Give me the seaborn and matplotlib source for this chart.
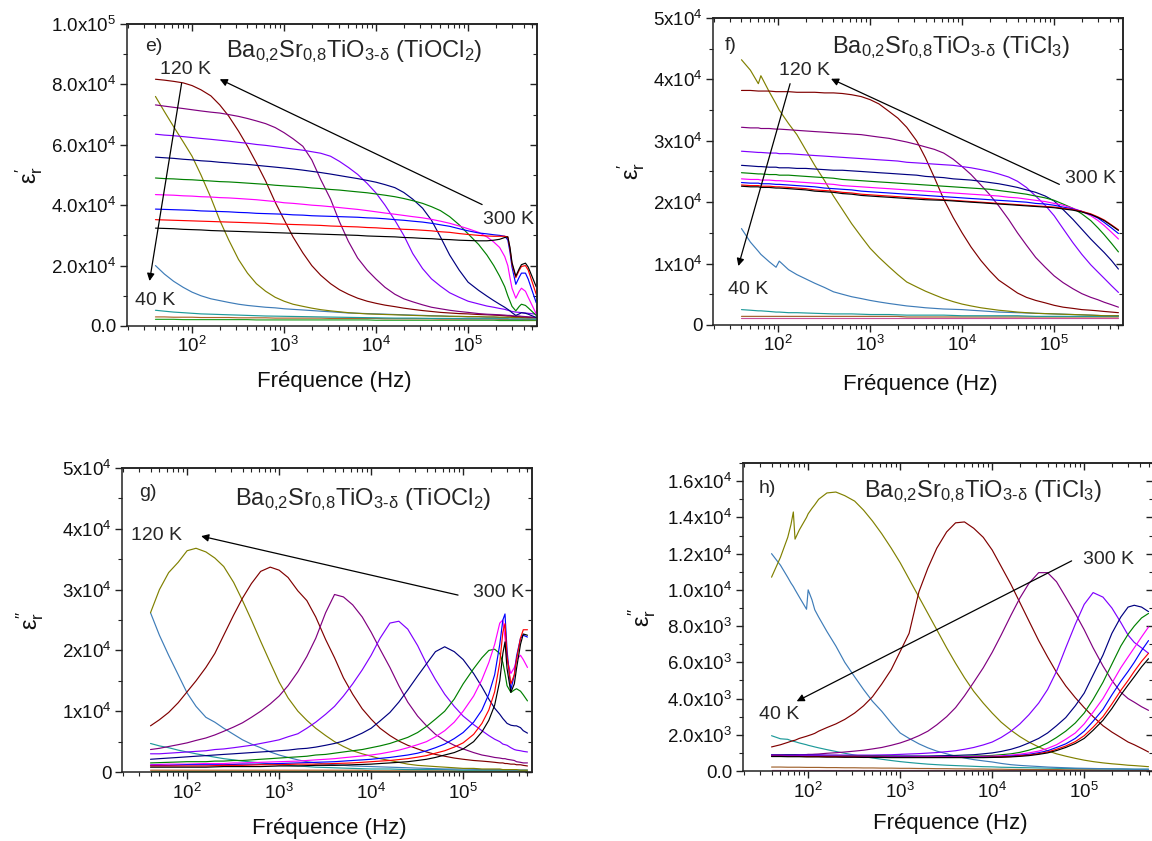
import numpy as np
import pandas as pd
import matplotlib
matplotlib.use("Agg")
import matplotlib.pyplot as plt
import seaborn as sns
from matplotlib.ticker import FixedLocator, FixedFormatter, MultipleLocator, LogLocator, NullFormatter

# ---------------- data ----------------
temps = [300, 280, 260, 240, 220, 200, 180, 160, 140, 120, 100, 80, 60, 40]

freq_e = [40, 50, 63, 80, 100, 125, 160, 200, 250, 320, 400, 500, 630, 800, 1.0e3, 1.25e3, 1.6e3,
          2.0e3, 2.5e3, 3.2e3, 4.0e3, 5.0e3, 6.3e3, 8.0e3, 1.0e4, 1.25e4, 1.6e4, 2.0e4, 2.5e4, 3.2e4,
          4.0e4, 5.0e4, 6.3e4, 8.0e4, 1.0e5, 1.3e5, 1.6e5, 1.9e5, 2.2e5, 2.5e5, 2.7e5, 2.85e5, 3.0e5,
          3.3e5, 3.6e5, 3.8e5, 4.2e5, 4.5e5, 5.5e5]
# panel e : eps' (units of 1e4), TiOCl2
eps_e = [
    [3.24, 3.23, 3.22, 3.20, 3.19, 3.18, 3.16, 3.15, 3.14, 3.13, 3.12, 3.11, 3.10, 3.09, 3.08, 3.07, 3.06, 3.05, 3.04, 3.03, 3.02, 3.01, 3.00, 2.98, 2.97, 2.96, 2.95, 2.93, 2.92, 2.90, 2.89, 2.87, 2.86, 2.84, 2.83,
     2.82, 2.82, 2.84, 2.87, 2.93, 2.95, 2.60, 2.10, 1.65, 1.90, 2.03, 2.08, 1.95, 1.30],
    [3.52, 3.51, 3.50, 3.49, 3.48, 3.47, 3.46, 3.45, 3.44, 3.43, 3.42, 3.41, 3.40, 3.38, 3.37, 3.36, 3.35, 3.34, 3.33, 3.31, 3.30, 3.29, 3.28, 3.26, 3.25, 3.23, 3.22, 3.20, 3.19, 3.17, 3.15, 3.12, 3.10, 3.06, 3.03,
     3.00, 2.98, 2.97, 2.97, 2.97, 2.95, 2.55, 2.05, 1.60, 1.85, 1.97, 2.00, 1.85, 1.05],
    [3.87, 3.86, 3.85, 3.84, 3.83, 3.81, 3.80, 3.79, 3.78, 3.76, 3.75, 3.73, 3.72, 3.71, 3.70, 3.68, 3.67, 3.65, 3.64, 3.63, 3.62, 3.61, 3.60, 3.58, 3.57, 3.55, 3.52, 3.50, 3.47, 3.44, 3.40, 3.35, 3.30, 3.22, 3.15,
     3.08, 3.05, 3.02, 3.00, 2.97, 2.85, 2.45, 1.95, 1.38, 1.62, 1.75, 1.75, 1.55, 0.77],
    [4.35, 4.34, 4.33, 4.31, 4.30, 4.28, 4.27, 4.25, 4.24, 4.22, 4.20, 4.18, 4.15, 4.12, 4.08, 4.06, 4.03, 4.00, 3.98, 3.95, 3.92, 3.89, 3.86, 3.82, 3.78, 3.74, 3.70, 3.66, 3.62, 3.58, 3.53, 3.47, 3.40, 3.31, 3.22,
     3.10, 2.95, 2.78, 2.60, 2.30, 2.00, 1.60, 1.25, 0.92, 1.15, 1.25, 1.15, 0.95, 0.40],
    [4.90, 4.88, 4.87, 4.85, 4.84, 4.82, 4.80, 4.78, 4.77, 4.75, 4.73, 4.71, 4.69, 4.66, 4.64, 4.62, 4.60, 4.57, 4.55, 4.52, 4.50, 4.47, 4.44, 4.41, 4.37, 4.33, 4.28, 4.22, 4.15, 4.06, 3.95, 3.82, 3.62, 3.35, 3.05,
     2.70, 2.35, 2.00, 1.65, 1.30, 1.00, 0.82, 0.65, 0.50, 0.65, 0.72, 0.68, 0.60, 0.35],
    [5.59, 5.57, 5.55, 5.52, 5.50, 5.47, 5.45, 5.42, 5.40, 5.37, 5.35, 5.32, 5.29, 5.26, 5.23, 5.20, 5.16, 5.12, 5.08, 5.03, 4.98, 4.93, 4.88, 4.82, 4.76, 4.68, 4.58, 4.42, 4.20, 3.90, 3.50, 2.95, 2.35, 1.85, 1.45,
     1.18, 0.99, 0.84, 0.72, 0.62, 0.55, 0.50, 0.44, 0.35, 0.40, 0.44, 0.42, 0.39, 0.28],
    [6.35, 6.32, 6.30, 6.27, 6.24, 6.21, 6.18, 6.15, 6.12, 6.08, 6.05, 6.01, 5.98, 5.94, 5.90, 5.86, 5.82, 5.77, 5.72, 5.62, 5.45, 5.25, 5.02, 4.72, 4.40, 4.00, 3.50, 3.00, 2.40, 1.90, 1.56, 1.32, 1.10, 0.95, 0.82,
     0.73, 0.66, 0.62, 0.58, 0.55, 0.52, 0.50, 0.48, 0.46, 0.45, 0.44, 0.43, 0.42, 0.39],
    [7.32, 7.28, 7.24, 7.20, 7.16, 7.12, 7.08, 7.05, 7.00, 6.94, 6.87, 6.79, 6.70, 6.57, 6.40, 6.20, 5.95, 5.50, 4.85, 4.20, 3.45, 2.80, 2.25, 1.85, 1.55, 1.28, 1.05, 0.90, 0.80, 0.70, 0.62, 0.57, 0.52, 0.48, 0.45,
     0.41, 0.39, 0.38, 0.37, 0.36, 0.35, 0.35, 0.34, 0.33, 0.33, 0.32, 0.31, 0.30, 0.28],
    [8.17, 8.14, 8.10, 8.05, 7.96, 7.82, 7.62, 7.32, 6.95, 6.45, 5.95, 5.40, 4.80, 4.10, 3.52, 2.95, 2.42, 2.00, 1.68, 1.40, 1.20, 1.05, 0.92, 0.82, 0.75, 0.69, 0.64, 0.59, 0.55, 0.51, 0.48, 0.45, 0.43, 0.41, 0.40,
     0.38, 0.37, 0.36, 0.35, 0.34, 0.33, 0.33, 0.32, 0.31, 0.31, 0.30, 0.30, 0.29, 0.28],
    [7.60, 7.10, 6.60, 6.10, 5.62, 5.00, 4.25, 3.50, 2.85, 2.20, 1.75, 1.40, 1.15, 0.95, 0.82, 0.72, 0.65, 0.59, 0.54, 0.50, 0.47, 0.44, 0.42, 0.40, 0.39, 0.38, 0.37, 0.36, 0.35, 0.34, 0.33, 0.33, 0.32, 0.32, 0.31,
     0.31, 0.30, 0.30, 0.29, 0.29, 0.29, 0.29, 0.28, 0.28, 0.28, 0.28, 0.27, 0.27, 0.27],
    [2.00, 1.72, 1.48, 1.28, 1.12, 1.00, 0.90, 0.84, 0.78, 0.72, 0.68, 0.65, 0.62, 0.60, 0.57, 0.55, 0.53, 0.51, 0.49, 0.47, 0.45, 0.43, 0.42, 0.41, 0.40, 0.39, 0.38, 0.37, 0.36, 0.35, 0.34, 0.33, 0.32, 0.31, 0.30,
     0.30, 0.29, 0.29, 0.28, 0.28, 0.28, 0.28, 0.27, 0.27, 0.27, 0.27, 0.27, 0.26, 0.26],
    [0.52, 0.49, 0.46, 0.44, 0.42, 0.40, 0.39, 0.38, 0.37, 0.36, 0.35, 0.34, 0.33, 0.325, 0.32, 0.315, 0.31, 0.305, 0.30, 0.295, 0.29, 0.285, 0.28, 0.275, 0.27, 0.265, 0.26, 0.26, 0.26, 0.255, 0.25, 0.25, 0.25, 0.245, 0.24,
     0.24, 0.24, 0.24, 0.24, 0.24, 0.24, 0.23, 0.23, 0.23, 0.23, 0.23, 0.23, 0.23, 0.22],
    [0.30, 0.30, 0.29, 0.29, 0.29, 0.28, 0.28, 0.28, 0.28, 0.27, 0.27, 0.27, 0.27, 0.26, 0.26, 0.26, 0.26, 0.26, 0.26, 0.25, 0.25, 0.25, 0.25, 0.25, 0.25, 0.24, 0.24, 0.24, 0.24, 0.24, 0.24, 0.23, 0.23, 0.23, 0.23,
     0.23, 0.23, 0.23, 0.22, 0.22, 0.22, 0.22, 0.22, 0.22, 0.22, 0.22, 0.21, 0.21, 0.21],
    [0.22, 0.22, 0.22, 0.21, 0.21, 0.21, 0.21, 0.21, 0.21, 0.21, 0.21, 0.20, 0.20, 0.20, 0.20, 0.20, 0.20, 0.20, 0.20, 0.20, 0.20, 0.20, 0.20, 0.20, 0.19, 0.19, 0.19, 0.19, 0.19, 0.19, 0.19, 0.19, 0.19, 0.19, 0.19,
     0.19, 0.19, 0.19, 0.18, 0.18, 0.18, 0.18, 0.18, 0.18, 0.18, 0.18, 0.18, 0.18, 0.18],
]

freq_f = [40, 50, 61, 65, 80, 95, 103, 130, 160, 200, 250, 320, 400, 500, 630, 800, 1.0e3, 1.25e3,
          1.6e3, 2.0e3, 2.5e3, 3.2e3, 4.0e3, 5.0e3, 6.3e3, 8.0e3, 1.0e4, 1.25e4, 1.6e4, 2.0e4, 2.5e4,
          3.2e4, 4.0e4, 5.0e4, 6.3e4, 8.0e4, 1.0e5, 1.25e5, 1.6e5, 2.0e5, 2.5e5, 3.0e5, 3.5e5, 4.2e5, 5.0e5]
# panel f : eps' (units of 1e4), TiCl3
eps_f = [
    [2.26, 2.25, 2.25, 2.24, 2.24, 2.23, 2.23, 2.22, 2.21,
     2.20, 2.18, 2.17, 2.16, 2.14, 2.13, 2.11, 2.10, 2.09, 2.08, 2.07, 2.06, 2.05, 2.04, 2.035, 2.03, 2.02,
     2.01, 2.00, 1.99, 1.98, 1.97, 1.96, 1.95, 1.94, 1.93, 1.92, 1.91, 1.89, 1.87, 1.84, 1.80, 1.75, 1.70, 1.62, 1.54],
    [2.28, 2.27, 2.27, 2.26, 2.26, 2.25, 2.25, 2.24, 2.23,
     2.22, 2.20, 2.19, 2.18, 2.16, 2.15, 2.13, 2.12, 2.11, 2.10, 2.09, 2.08, 2.07, 2.06, 2.05, 2.04, 2.03,
     2.02, 2.01, 2.00, 1.99, 1.98, 1.97, 1.96, 1.95, 1.94, 1.93, 1.92, 1.90, 1.88, 1.85, 1.81, 1.76, 1.71, 1.63, 1.55],
    [2.32, 2.31, 2.31, 2.30, 2.30, 2.29, 2.29, 2.28, 2.27,
     2.26, 2.25, 2.23, 2.22, 2.21, 2.20, 2.18, 2.17, 2.16, 2.15, 2.14, 2.13, 2.12, 2.11, 2.10, 2.09, 2.08,
     2.07, 2.06, 2.05, 2.04, 2.03, 2.02, 2.01, 2.00, 1.98, 1.97, 1.95, 1.92, 1.89, 1.85, 1.80, 1.74, 1.67, 1.58, 1.49],
    [2.38, 2.37, 2.37, 2.36, 2.36, 2.35, 2.35, 2.34, 2.33,
     2.32, 2.31, 2.30, 2.29, 2.27, 2.26, 2.25, 2.24, 2.23, 2.22, 2.21, 2.20, 2.19, 2.18, 2.17, 2.16, 2.15,
     2.14, 2.13, 2.12, 2.11, 2.10, 2.08, 2.07, 2.05, 2.03, 2.01, 1.98, 1.95, 1.90, 1.85, 1.78, 1.70, 1.62, 1.51, 1.40],
    [2.48, 2.47, 2.46, 2.46, 2.45, 2.45, 2.44, 2.44, 2.43,
     2.42, 2.41, 2.40, 2.39, 2.37, 2.36, 2.35, 2.34, 2.33, 2.32, 2.31, 2.30, 2.29, 2.28, 2.27, 2.26, 2.25,
     2.24, 2.23, 2.22, 2.21, 2.19, 2.17, 2.15, 2.13, 2.10, 2.07, 2.03, 1.97, 1.90, 1.81, 1.70, 1.58, 1.47, 1.33, 1.19],
    [2.60, 2.59, 2.58, 2.58, 2.57, 2.57, 2.56, 2.56, 2.55,
     2.55, 2.54, 2.53, 2.52, 2.52, 2.51, 2.50, 2.49, 2.48, 2.47, 2.46, 2.45, 2.44, 2.42, 2.41, 2.40, 2.38,
     2.37, 2.36, 2.34, 2.32, 2.30, 2.27, 2.24, 2.20, 2.16, 2.10, 2.02, 1.88, 1.72, 1.56, 1.40, 1.28, 1.18, 1.05, 0.91],
    [2.83, 2.82, 2.81, 2.81, 2.80, 2.80, 2.79, 2.79, 2.78,
     2.77, 2.76, 2.75, 2.74, 2.73, 2.72, 2.71, 2.70, 2.69, 2.68, 2.67, 2.65, 2.64, 2.63, 2.62, 2.61, 2.60,
     2.58, 2.56, 2.53, 2.50, 2.46, 2.41, 2.34, 2.24, 2.10, 1.95, 1.78, 1.57, 1.34, 1.15, 0.98, 0.86, 0.76, 0.64, 0.53],
    [3.22, 3.21, 3.21, 3.20, 3.20, 3.19, 3.19, 3.18, 3.17,
     3.16, 3.15, 3.14, 3.13, 3.12, 3.11, 3.10, 3.08, 3.06, 3.04, 3.01, 2.98, 2.94, 2.90, 2.86, 2.80, 2.70,
     2.58, 2.45, 2.28, 2.12, 1.94, 1.72, 1.50, 1.30, 1.10, 0.94, 0.80, 0.69, 0.59, 0.51, 0.45, 0.41, 0.37, 0.33, 0.29],
    [3.82, 3.82, 3.81, 3.81, 3.81, 3.80, 3.80, 3.80, 3.79,
     3.79, 3.79, 3.78, 3.78, 3.77, 3.75, 3.72, 3.67, 3.60, 3.48, 3.37, 3.22, 3.00, 2.72, 2.40, 2.05, 1.75,
     1.50, 1.27, 1.05, 0.88, 0.73, 0.62, 0.52, 0.45, 0.40, 0.36, 0.32, 0.29, 0.27, 0.25, 0.24, 0.23, 0.22, 0.21, 0.20],
    [4.32, 4.15, 3.93, 4.06, 3.80, 3.60, 3.50, 3.28, 3.10,
     2.85, 2.60, 2.35, 2.10, 1.88, 1.65, 1.44, 1.25, 1.10, 0.95, 0.82, 0.70, 0.62, 0.55, 0.49, 0.43, 0.38,
     0.34, 0.31, 0.28, 0.26, 0.24, 0.225, 0.21, 0.20, 0.19, 0.185, 0.18, 0.175, 0.17, 0.165, 0.16, 0.155, 0.15, 0.15, 0.15],
    [1.57, 1.35, 1.20, 1.15, 1.03, 0.94, 1.04, 0.90, 0.82,
     0.75, 0.68, 0.61, 0.54, 0.50, 0.46, 0.43, 0.40, 0.375, 0.35, 0.33, 0.31, 0.295, 0.28, 0.27, 0.26, 0.255,
     0.25, 0.24, 0.23, 0.22, 0.21, 0.205, 0.20, 0.195, 0.19, 0.185, 0.18, 0.175, 0.17, 0.165, 0.16, 0.155, 0.15, 0.15, 0.15],
    [0.25, 0.24, 0.23, 0.23, 0.22, 0.21, 0.21, 0.20, 0.20,
     0.195, 0.19, 0.185, 0.18, 0.18, 0.18, 0.175, 0.17, 0.17, 0.17, 0.165, 0.16, 0.16, 0.16, 0.16, 0.16, 0.155,
     0.15, 0.15, 0.15, 0.15, 0.15, 0.15, 0.15, 0.145, 0.14, 0.14, 0.14, 0.14, 0.14, 0.14, 0.14, 0.14, 0.14, 0.14, 0.14],
    [0.14, 0.14, 0.14, 0.14, 0.14, 0.14, 0.14, 0.14, 0.14,
     0.14, 0.14, 0.14, 0.14, 0.14, 0.14, 0.14, 0.14, 0.14, 0.14, 0.14, 0.13, 0.13, 0.13, 0.13, 0.13, 0.13,
     0.13, 0.13, 0.13, 0.13, 0.13, 0.13, 0.13, 0.13, 0.13, 0.13, 0.13, 0.13, 0.13, 0.13, 0.13, 0.13, 0.13, 0.13, 0.13],
    [0.11, 0.11, 0.11, 0.11, 0.11, 0.11, 0.11, 0.11, 0.11,
     0.11, 0.11, 0.11, 0.11, 0.11, 0.11, 0.11, 0.11, 0.11, 0.11, 0.11, 0.11, 0.11, 0.11, 0.11, 0.11, 0.11,
     0.11, 0.11, 0.11, 0.11, 0.11, 0.11, 0.11, 0.11, 0.11, 0.11, 0.11, 0.11, 0.11, 0.11, 0.11, 0.11, 0.11, 0.11, 0.11],
]

freq_g = [40, 50, 63, 80, 100, 125, 160, 200, 250, 320, 400, 500, 630, 800, 1.0e3, 1.25e3, 1.6e3,
          2.0e3, 2.5e3, 3.2e3, 4.0e3, 5.0e3, 6.3e3, 8.0e3, 1.0e4, 1.25e4, 1.6e4, 2.0e4, 2.5e4, 3.2e4,
          4.0e4, 5.0e4, 6.3e4, 8.0e4, 1.0e5, 1.3e5, 1.6e5, 1.9e5, 2.2e5, 2.5e5, 2.7e5, 2.85e5, 3.0e5,
          3.3e5, 3.6e5, 3.8e5, 4.2e5, 4.5e5, 5.0e5]
# panel g : eps'' (units of 1e4), TiOCl2
eps_g = [
    [0.08, 0.08, 0.08, 0.08, 0.08, 0.08, 0.08, 0.085, 0.09, 0.09, 0.09, 0.09, 0.09, 0.095, 0.10, 0.10, 0.10, 0.105, 0.11, 0.11, 0.11, 0.115, 0.12, 0.125, 0.13, 0.14, 0.15, 0.16, 0.17, 0.19, 0.21, 0.24, 0.28, 0.32, 0.38,
     0.50, 0.66, 0.85, 1.10, 1.50, 1.95, 2.14, 1.70, 1.31, 1.45, 1.70, 2.10, 2.27, 2.25],
    [0.10, 0.10, 0.10, 0.10, 0.10, 0.10, 0.10, 0.105, 0.11, 0.11, 0.11, 0.115, 0.12, 0.12, 0.12, 0.125, 0.13, 0.13, 0.13, 0.135, 0.14, 0.145, 0.15, 0.16, 0.17, 0.18, 0.19, 0.205, 0.22, 0.245, 0.27, 0.31, 0.35, 0.41, 0.48,
     0.62, 0.80, 1.02, 1.32, 1.80, 2.30, 2.44, 1.90, 1.45, 1.60, 1.85, 2.20, 2.34, 2.34],
    [0.11, 0.11, 0.11, 0.115, 0.12, 0.12, 0.12, 0.12, 0.12, 0.125, 0.13, 0.13, 0.13, 0.135, 0.14, 0.145, 0.15, 0.155, 0.16, 0.165, 0.17, 0.18, 0.19, 0.20, 0.21, 0.225, 0.24, 0.26, 0.28, 0.31, 0.35, 0.40, 0.46, 0.55, 0.65,
     0.82, 1.02, 1.28, 1.60, 2.10, 2.50, 2.60, 2.00, 1.35, 1.60, 1.90, 2.20, 2.25, 2.22],
    [0.12, 0.125, 0.13, 0.13, 0.13, 0.135, 0.14, 0.14, 0.14, 0.15, 0.15, 0.155, 0.16, 0.165, 0.17, 0.175, 0.18, 0.19, 0.20, 0.21, 0.22, 0.235, 0.25, 0.265, 0.28, 0.30, 0.33, 0.36, 0.40, 0.45, 0.50, 0.58, 0.68, 0.82, 1.00,
     1.25, 1.52, 1.80, 2.10, 2.45, 2.50, 2.20, 1.85, 1.62, 1.72, 1.85, 1.92, 1.85, 1.72],
    [0.15, 0.155, 0.16, 0.165, 0.17, 0.17, 0.17, 0.18, 0.18, 0.19, 0.19, 0.20, 0.21, 0.22, 0.23, 0.24, 0.25, 0.26, 0.28, 0.29, 0.31, 0.33, 0.35, 0.37, 0.40, 0.43, 0.47, 0.52, 0.57, 0.65, 0.75, 0.87, 1.00, 1.20, 1.45,
     1.70, 1.88, 2.00, 2.02, 1.95, 1.80, 1.62, 1.42, 1.31, 1.35, 1.37, 1.33, 1.27, 1.17],
    [0.21, 0.22, 0.23, 0.24, 0.25, 0.26, 0.27, 0.28, 0.29, 0.30, 0.31, 0.32, 0.33, 0.34, 0.35, 0.36, 0.38, 0.39, 0.41, 0.44, 0.47, 0.51, 0.57, 0.64, 0.72, 0.84, 0.98, 1.15, 1.35, 1.58, 1.78, 1.98, 2.06, 1.98, 1.85,
     1.62, 1.40, 1.20, 1.05, 0.95, 0.88, 0.84, 0.80, 0.77, 0.76, 0.76, 0.73, 0.68, 0.64],
    [0.30, 0.30, 0.31, 0.32, 0.33, 0.34, 0.35, 0.37, 0.38, 0.40, 0.42, 0.44, 0.47, 0.50, 0.53, 0.58, 0.63, 0.72, 0.82, 0.95, 1.08, 1.25, 1.45, 1.68, 1.92, 2.20, 2.45, 2.48, 2.35, 2.08, 1.78, 1.52, 1.28, 1.08, 0.92,
     0.78, 0.68, 0.60, 0.54, 0.50, 0.46, 0.45, 0.44, 0.40, 0.37, 0.36, 0.35, 0.34, 0.33],
    [0.37, 0.39, 0.42, 0.45, 0.48, 0.52, 0.56, 0.61, 0.67, 0.74, 0.81, 0.90, 1.00, 1.12, 1.25, 1.42, 1.65, 1.90, 2.20, 2.62, 2.92, 2.88, 2.75, 2.55, 2.30, 2.02, 1.72, 1.42, 1.15, 0.92, 0.76, 0.62, 0.52, 0.44, 0.38,
     0.32, 0.28, 0.26, 0.24, 0.23, 0.22, 0.22, 0.21, 0.20, 0.19, 0.17, 0.16, 0.15, 0.15],
    [0.76, 0.86, 0.98, 1.14, 1.32, 1.50, 1.72, 1.95, 2.25, 2.58, 2.86, 3.10, 3.30, 3.37, 3.32, 3.20, 2.98, 2.82, 2.55, 2.18, 1.88, 1.55, 1.28, 1.04, 0.87, 0.72, 0.60, 0.51, 0.44, 0.38, 0.33, 0.29, 0.26, 0.23, 0.21,
     0.19, 0.18, 0.17, 0.16, 0.15, 0.15, 0.14, 0.14, 0.13, 0.13, 0.12, 0.12, 0.11, 0.10],
    [2.62, 3.00, 3.28, 3.45, 3.64, 3.68, 3.62, 3.52, 3.38, 3.12, 2.82, 2.50, 2.15, 1.80, 1.48, 1.22, 1.00, 0.85, 0.72, 0.60, 0.50, 0.42, 0.35, 0.30, 0.26, 0.22, 0.19, 0.16, 0.13, 0.11, 0.10, 0.09, 0.08, 0.07, 0.06,
     0.06, 0.05, 0.05, 0.05, 0.05, 0.04, 0.04, 0.04, 0.04, 0.04, 0.04, 0.03, 0.03, 0.03],
    [2.62, 2.25, 1.92, 1.60, 1.30, 1.08, 0.90, 0.82, 0.72, 0.62, 0.53, 0.46, 0.40, 0.33, 0.28, 0.24, 0.20, 0.17, 0.15, 0.13, 0.12, 0.11, 0.10, 0.095, 0.09, 0.085, 0.08, 0.075, 0.07, 0.065, 0.06, 0.055, 0.05, 0.05, 0.05,
     0.045, 0.04, 0.04, 0.04, 0.04, 0.04, 0.04, 0.04, 0.03, 0.03, 0.03, 0.03, 0.03, 0.03],
    [0.47, 0.43, 0.40, 0.36, 0.33, 0.30, 0.27, 0.245, 0.22, 0.20, 0.18, 0.165, 0.15, 0.135, 0.12, 0.11, 0.10, 0.09, 0.08, 0.075, 0.07, 0.065, 0.06, 0.055, 0.05, 0.05, 0.05, 0.045, 0.04, 0.04, 0.04, 0.04, 0.04, 0.035, 0.03,
     0.03, 0.03, 0.03, 0.03, 0.03, 0.03, 0.03, 0.03, 0.03, 0.03, 0.03, 0.03, 0.03, 0.03],
    [0.03, 0.03, 0.03, 0.03, 0.03, 0.03, 0.03, 0.03, 0.03, 0.03, 0.03, 0.03, 0.03, 0.03, 0.03, 0.03, 0.03, 0.03, 0.03, 0.03, 0.03, 0.03, 0.03, 0.03, 0.02, 0.02, 0.02, 0.02, 0.02, 0.02, 0.02, 0.02, 0.02, 0.02, 0.02,
     0.02, 0.02, 0.02, 0.02, 0.02, 0.02, 0.02, 0.02, 0.02, 0.02, 0.02, 0.02, 0.02, 0.02],
    [0.01, 0.01, 0.01, 0.01, 0.01, 0.01, 0.01, 0.01, 0.01, 0.01, 0.01, 0.01, 0.01, 0.01, 0.01, 0.01, 0.01, 0.01, 0.01, 0.01, 0.01, 0.01, 0.01, 0.01, 0.01, 0.01, 0.01, 0.01, 0.01, 0.01, 0.01, 0.01, 0.01, 0.01, 0.01,
     0.01, 0.01, 0.01, 0.01, 0.01, 0.01, 0.01, 0.01, 0.01, 0.01, 0.01, 0.01, 0.01, 0.01],
]

freq_h = [40, 50, 60, 65, 69, 72, 80, 96, 100, 110, 118, 130, 160, 200, 250, 320, 400, 500, 630,
          800, 1.0e3, 1.25e3, 1.6e3, 2.0e3, 2.5e3, 3.2e3, 4.0e3, 5.0e3, 6.3e3, 8.0e3, 1.0e4, 1.25e4,
          1.6e4, 2.0e4, 2.5e4, 3.2e4, 4.0e4, 5.0e4, 6.3e4, 8.0e4, 1.0e5, 1.25e5, 1.6e5, 2.0e5, 2.5e5,
          3.0e5, 3.5e5, 4.2e5, 5.0e5]
# panel h : eps'' (units of 1e3), TiCl3
eps_h = [
    [0.80, 0.80, 0.79, 0.79, 0.79, 0.79, 0.79, 0.78, 0.78, 0.78, 0.78, 0.78,
     0.77, 0.77, 0.76, 0.76, 0.75, 0.75, 0.75, 0.74, 0.74, 0.74, 0.74, 0.74, 0.74, 0.74, 0.74, 0.74, 0.74, 0.74,
     0.75, 0.76, 0.78, 0.81, 0.85, 0.92, 1.00, 1.13, 1.30, 1.52, 1.80, 2.25, 2.80, 3.45, 4.20, 4.75, 5.20, 5.75, 6.20],
    [0.82, 0.82, 0.81, 0.81, 0.81, 0.81, 0.81, 0.80, 0.80, 0.80, 0.80, 0.80,
     0.79, 0.79, 0.78, 0.78, 0.77, 0.77, 0.77, 0.76, 0.76, 0.76, 0.76, 0.76, 0.76, 0.76, 0.76, 0.76, 0.76, 0.76,
     0.77, 0.78, 0.80, 0.84, 0.88, 0.96, 1.05, 1.20, 1.38, 1.62, 1.95, 2.42, 3.00, 3.70, 4.45, 5.00, 5.50, 6.05, 6.50],
    [0.84, 0.84, 0.83, 0.83, 0.83, 0.83, 0.83, 0.82, 0.82, 0.82, 0.82, 0.82,
     0.81, 0.81, 0.80, 0.80, 0.79, 0.79, 0.78, 0.78, 0.78, 0.78, 0.77, 0.77, 0.77, 0.77, 0.77, 0.77, 0.77, 0.77,
     0.78, 0.80, 0.83, 0.87, 0.92, 1.01, 1.12, 1.30, 1.50, 1.80, 2.20, 2.75, 3.40, 4.20, 4.95, 5.50, 6.00, 6.65, 7.20],
    [0.86, 0.86, 0.85, 0.85, 0.85, 0.85, 0.85, 0.84, 0.84, 0.84, 0.84, 0.84,
     0.83, 0.83, 0.82, 0.82, 0.81, 0.81, 0.80, 0.80, 0.79, 0.79, 0.79, 0.79, 0.79, 0.79, 0.79, 0.79, 0.80, 0.81,
     0.82, 0.84, 0.88, 0.93, 1.00, 1.10, 1.25, 1.45, 1.75, 2.10, 2.60, 3.25, 4.00, 4.85, 5.70, 6.30, 6.80, 7.40, 7.95],
    [0.86, 0.86, 0.86, 0.86, 0.86, 0.86, 0.85, 0.85, 0.85, 0.85, 0.85, 0.85,
     0.84, 0.84, 0.83, 0.83, 0.82, 0.82, 0.81, 0.81, 0.80, 0.80, 0.80, 0.80, 0.80, 0.80, 0.81, 0.81, 0.83, 0.84,
     0.86, 0.90, 0.95, 1.03, 1.15, 1.32, 1.55, 1.85, 2.20, 2.65, 3.20, 3.95, 4.90, 5.90, 6.90, 7.55, 8.00, 8.45, 8.70],
    [0.88, 0.88, 0.88, 0.88, 0.88, 0.88, 0.87, 0.87, 0.87, 0.87, 0.87, 0.87,
     0.86, 0.86, 0.85, 0.85, 0.84, 0.84, 0.83, 0.83, 0.83, 0.83, 0.83, 0.83, 0.84, 0.85, 0.86, 0.88, 0.90, 0.95,
     1.00, 1.08, 1.20, 1.35, 1.55, 1.80, 2.10, 2.50, 2.95, 3.60, 4.30, 5.30, 6.40, 7.60, 8.50, 9.05, 9.15, 9.05, 8.80],
    [0.90, 0.90, 0.90, 0.90, 0.90, 0.90, 0.89, 0.89, 0.89, 0.89, 0.89, 0.89,
     0.88, 0.88, 0.88, 0.88, 0.88, 0.88, 0.89, 0.90, 0.92, 0.94, 0.96, 0.99, 1.02, 1.07, 1.12, 1.20, 1.30, 1.44,
     1.60, 1.85, 2.20, 2.60, 3.10, 3.75, 4.50, 5.50, 6.80, 8.10, 9.20, 9.85, 9.60, 9.00, 8.20, 7.50, 7.10, 6.80, 6.50],
    [0.88, 0.88, 0.89, 0.89, 0.89, 0.90, 0.90, 0.91, 0.92, 0.92, 0.93, 0.94,
     0.98, 1.01, 1.05, 1.10, 1.15, 1.22, 1.30, 1.42, 1.55, 1.72, 1.95, 2.20, 2.55, 3.00, 3.50, 4.15, 4.90, 5.70,
     6.55, 7.50, 8.60, 9.55, 10.35, 10.95, 10.95, 10.45, 9.60, 8.70, 7.80, 6.80, 5.80, 5.00, 4.35, 4.00, 3.80, 3.55, 3.35],
    [1.33, 1.45, 1.58, 1.64, 1.68, 1.70, 1.80, 1.92, 1.95, 2.02, 2.08, 2.20,
     2.40, 2.60, 2.85, 3.20, 3.60, 4.10, 4.80, 5.60, 6.60, 7.60, 9.90, 11.2, 12.3, 13.2, 13.7, 13.75, 13.4, 12.9,
     12.2, 11.3, 10.3, 9.30, 8.30, 7.20, 6.30, 5.45, 4.70, 4.05, 3.50, 3.00, 2.50, 2.15, 1.85, 1.60, 1.45, 1.25, 1.05],
    [10.7, 11.8, 12.9, 13.6, 14.3, 12.8, 13.3, 14.0, 14.2, 14.5, 14.7, 15.0,
     15.35, 15.4, 15.2, 14.9, 14.4, 13.8, 13.1, 12.3, 11.5, 10.6, 9.60, 8.70, 7.80, 6.80, 5.95, 5.15, 4.40, 3.75,
     3.20, 2.70, 2.25, 1.90, 1.60, 1.33, 1.12, 0.95, 0.82, 0.70, 0.60, 0.52, 0.45, 0.40, 0.36, 0.32, 0.30, 0.27, 0.24],
    [12.0, 11.36, 10.69, 10.38, 10.18, 10.01, 9.61, 8.93, 10.0, 9.45, 8.90, 8.50,
     7.70, 6.90, 6.00, 5.20, 4.50, 3.85, 3.30, 2.65, 2.10, 1.80, 1.50, 1.28, 1.10, 0.95, 0.82, 0.72, 0.63, 0.56,
     0.50, 0.42, 0.35, 0.31, 0.28, 0.25, 0.22, 0.20, 0.18, 0.16, 0.15, 0.14, 0.13, 0.12, 0.12, 0.11, 0.10, 0.10, 0.10],
    [1.95, 1.78, 1.75, 1.68, 1.64, 1.62, 1.55, 1.45, 1.42, 1.37, 1.33, 1.28,
     1.18, 1.08, 0.98, 0.88, 0.80, 0.72, 0.65, 0.58, 0.52, 0.47, 0.42, 0.38, 0.35, 0.32, 0.30, 0.28, 0.26, 0.24,
     0.23, 0.21, 0.20, 0.19, 0.18, 0.17, 0.16, 0.15, 0.14, 0.135, 0.13, 0.125, 0.12, 0.115, 0.11, 0.105, 0.10, 0.10, 0.10],
    [0.22, 0.22, 0.21, 0.21, 0.21, 0.21, 0.21, 0.20, 0.20, 0.20, 0.20, 0.20,
     0.19, 0.19, 0.18, 0.18, 0.17, 0.17, 0.16, 0.16, 0.15, 0.15, 0.14, 0.14, 0.13, 0.13, 0.12, 0.12, 0.11, 0.11,
     0.10, 0.10, 0.09, 0.09, 0.08, 0.08, 0.08, 0.08, 0.07, 0.07, 0.07, 0.07, 0.06, 0.06, 0.06, 0.06, 0.06, 0.05, 0.05],
    [0.03, 0.03, 0.03, 0.03, 0.03, 0.03, 0.03, 0.03, 0.03, 0.03, 0.03, 0.03,
     0.03, 0.03, 0.03, 0.03, 0.03, 0.03, 0.03, 0.03, 0.03, 0.03, 0.03, 0.03, 0.03, 0.03, 0.03, 0.03, 0.03, 0.03,
     0.03, 0.03, 0.03, 0.03, 0.03, 0.03, 0.03, 0.03, 0.03, 0.03, 0.03, 0.03, 0.03, 0.03, 0.03, 0.03, 0.03, 0.03, 0.03],
]

base_colors = ['#000000', '#FF0000', '#0000FF', '#FF00FF', '#008000', '#000080', '#8000FF',
               '#800080', '#800000', '#808000', '#3E7CB8', '#1E9A9A']
low_colors_eg = ['#B0622A', '#22A022']
low_colors_fh = ['#A0622D', '#C8509A']

xtick_vals = [1e2, 1e3, 1e4, 1e5]
xtick_labels = [r'$\mathregular{10^{2}}$', r'$\mathregular{10^{3}}$', r'$\mathregular{10^{4}}$', r'$\mathregular{10^{5}}$']

ytick_e = [0, 2e4, 4e4, 6e4, 8e4, 1e5]
ylab_e = ['0.0', r'$\mathregular{2.0x10^{4}}$', r'$\mathregular{4.0x10^{4}}$', r'$\mathregular{6.0x10^{4}}$',
          r'$\mathregular{8.0x10^{4}}$', r'$\mathregular{1.0x10^{5}}$']
ytick_fg = [0, 1e4, 2e4, 3e4, 4e4, 5e4]
ylab_fg = ['0', r'$\mathregular{1x10^{4}}$', r'$\mathregular{2x10^{4}}$', r'$\mathregular{3x10^{4}}$',
           r'$\mathregular{4x10^{4}}$', r'$\mathregular{5x10^{4}}$']
ytick_h = [0, 2e3, 4e3, 6e3, 8e3, 1e4, 1.2e4, 1.4e4, 1.6e4]
ylab_h = ['0.0', r'$\mathregular{2.0x10^{3}}$', r'$\mathregular{4.0x10^{3}}$', r'$\mathregular{6.0x10^{3}}$',
          r'$\mathregular{8.0x10^{3}}$', r'$\mathregular{1.0x10^{4}}$', r'$\mathregular{1.2x10^{4}}$',
          r'$\mathregular{1.4x10^{4}}$', r'$\mathregular{1.6x10^{4}}$']

# ---------------- style ----------------
sns.set_theme(style="ticks")
plt.rcParams['font.family'] = ['Liberation Sans', 'DejaVu Sans']
plt.rcParams['mathtext.fontset'] = 'custom'
plt.rcParams['mathtext.rm'] = 'Liberation Sans'
plt.rcParams['mathtext.it'] = 'Liberation Sans'
plt.rcParams['mathtext.bf'] = 'Liberation Sans:bold'
plt.rcParams['mathtext.sf'] = 'Liberation Sans'

XLIM = (19.6, 5.6e5)
EDGE = '#222222'
TICKFS = 13.5

fig = plt.figure(figsize=(11.52, 8.41), dpi=100)
ax_e = fig.add_axes([0.1102, 0.6124, 0.3559, 0.3591])
ax_f = fig.add_axes([0.6189, 0.6136, 0.3559, 0.3650])
ax_g = fig.add_axes([0.1059, 0.0820, 0.3559, 0.3615])
ax_h = fig.add_axes([0.6450, 0.0832, 0.3559, 0.3662])


def draw(ax, freq, rows, unit, lows):
    colors = base_colors + lows
    recs = []
    for T, vals in zip(temps, rows):
        if len(vals) != len(freq):
            raise ValueError(f"length mismatch at T={T}: {len(vals)} vs {len(freq)}")
        for f, v in zip(freq, vals):
            recs.append((f, v * unit, T))
    df = pd.DataFrame(recs, columns=['f', 'v', 'T'])
    ax.set_xscale('log')
    sns.lineplot(data=df, x='f', y='v', hue='T', hue_order=temps[::-1],
                 palette=dict(zip(temps, colors)), estimator=None, sort=False,
                 legend=False, linewidth=0.85, ax=ax)


def style(ax, ylim, yt, yl, yminor, ylabel, ylab_x, xlab_y):
    ax.set_xscale('log')
    ax.set_xlim(*XLIM)
    ax.set_ylim(*ylim)
    ax.xaxis.set_major_locator(FixedLocator(xtick_vals))
    ax.xaxis.set_major_formatter(FixedFormatter(xtick_labels))
    ax.xaxis.set_minor_locator(LogLocator(base=10, subs=np.arange(2, 10), numticks=20))
    ax.xaxis.set_minor_formatter(NullFormatter())
    ax.yaxis.set_major_locator(FixedLocator(yt))
    ax.yaxis.set_major_formatter(FixedFormatter(yl))
    ax.yaxis.set_minor_locator(MultipleLocator(yminor))
    ax.tick_params(which='major', direction='out', length=5, width=1.0, color=EDGE,
                   labelsize=TICKFS, labelcolor='#111111', pad=2.5)
    ax.tick_params(which='minor', direction='out', length=3, width=0.8, color=EDGE)
    for s in ax.spines.values():
        s.set_linewidth(1.1)
        s.set_color(EDGE)
    ax.set_xlabel('Fréquence (Hz)', fontsize=16, color='#111111')
    ax.xaxis.set_label_coords(0.505, xlab_y)
    ax.set_ylabel(ylabel, fontsize=17, color='#111111')
    ax.yaxis.set_label_coords(ylab_x, 0.5)
    # mirrored inward ticks on top / right
    sx = ax.secondary_xaxis('top')
    sx.xaxis.set_major_locator(FixedLocator(xtick_vals))
    sx.xaxis.set_minor_locator(LogLocator(base=10, subs=np.arange(2, 10), numticks=20))
    sx.xaxis.set_major_formatter(NullFormatter())
    sx.xaxis.set_minor_formatter(NullFormatter())
    sx.tick_params(which='major', direction='in', length=5, width=1.0, color=EDGE)
    sx.tick_params(which='minor', direction='in', length=3, width=0.8, color=EDGE)
    sy = ax.secondary_yaxis('right')
    sy.yaxis.set_major_locator(FixedLocator(yt))
    sy.yaxis.set_minor_locator(MultipleLocator(yminor))
    sy.yaxis.set_major_formatter(NullFormatter())
    sy.yaxis.set_minor_formatter(NullFormatter())
    sy.tick_params(which='major', direction='in', length=5, width=1.0, color=EDGE)
    sy.tick_params(which='minor', direction='in', length=3, width=0.8, color=EDGE)
    for sec in (sx, sy):
        for s in sec.spines.values():
            s.set_linewidth(1.1)
            s.set_color(EDGE)


def arrow(ax, tail, head):
    ax.annotate('', xy=head, xytext=tail,
                arrowprops=dict(arrowstyle='-|>', color='black', lw=0.9,
                                mutation_scale=11, shrinkA=0, shrinkB=0))


draw(ax_e, freq_e, eps_e, 1e4, low_colors_eg)
draw(ax_f, freq_f, eps_f, 1e4, low_colors_fh)
draw(ax_g, freq_g, eps_g, 1e4, low_colors_eg)
draw(ax_h, freq_h, eps_h, 1e3, low_colors_fh)

yl1 = r"$\varepsilon_{r}^{\prime}$"
yl2 = r"$\varepsilon_{r}^{\prime\prime}$"
style(ax_e, (0, 1e5), ytick_e, ylab_e, 1e4, yl1, -0.20, -0.15)
style(ax_f, (0, 5e4), ytick_fg, ylab_fg, 5e3, yl1, -0.16, -0.16)
style(ax_g, (0, 5e4), ytick_fg, ylab_fg, 5e3, yl2, -0.185, -0.15)
style(ax_h, (0, 1.7e4), ytick_h, ylab_h, 1e3, yl2, -0.207, -0.136)

TFS = 17
title1 = r'Ba$_{\text{0,2}}$Sr$_{\text{0,8}}$TiO$_{\text{3-}\delta}$ (TiOCl$_{\text{2}}$)'
title2 = r'Ba$_{\text{0,2}}$Sr$_{\text{0,8}}$TiO$_{\text{3-}\delta}$ (TiCl$_{\text{3}}$)'

# panel e
ax_e.text(0.044, 0.924, 'e)', transform=ax_e.transAxes, fontsize=14, ha='left', va='center')
ax_e.text(0.554, 0.891, title1, transform=ax_e.transAxes, fontsize=TFS, ha='center', va='baseline')
ax_e.text(85, 8.48e4, '120 K', fontsize=14, ha='center', va='center')
ax_e.text(2.72e5, 3.52e4, '300 K', fontsize=14, ha='center', va='center')
ax_e.text(39.6, 0.83e4, '40 K', fontsize=14, ha='center', va='center')
arrow(ax_e, (1.42e5, 4.02e4), (200, 8.17e4))
arrow(ax_e, (77, 8.04e4), (34.5, 1.49e4))

# panel f
ax_f.text(0.029, 0.912, 'f)', transform=ax_f.transAxes, fontsize=14, ha='left', va='center')
ax_f.text(0.581, 0.886, title2, transform=ax_f.transAxes, fontsize=TFS, ha='center', va='baseline')
ax_f.text(193, 4.15e4, '120 K', fontsize=14, ha='center', va='center')
ax_f.text(2.47e5, 2.39e4, '300 K', fontsize=14, ha='center', va='center')
ax_f.text(47, 0.57e4, '40 K', fontsize=14, ha='center', va='center')
arrow(ax_f, (1.14e5, 2.29e4), (376, 4.01e4))
arrow(ax_f, (135, 3.93e4), (37, 0.96e4))

# panel g
ax_g.text(0.042, 0.921, 'g)', transform=ax_g.transAxes, fontsize=14, ha='left', va='center')
ax_g.text(0.589, 0.878, title1, transform=ax_g.transAxes, fontsize=TFS, ha='center', va='baseline')
ax_g.text(47, 3.89e4, '120 K', fontsize=14, ha='center', va='center')
ax_g.text(2.4e5, 2.96e4, '300 K', fontsize=14, ha='center', va='center')
arrow(ax_g, (8.8e4, 2.91e4), (142, 3.88e4))

# panel h
ax_h.text(0.039, 0.919, 'h)', transform=ax_h.transAxes, fontsize=14, ha='left', va='center')
ax_h.text(0.585, 0.890, title2, transform=ax_h.transAxes, fontsize=TFS, ha='center', va='baseline')
ax_h.text(1.86e5, 11.7e3, '300 K', fontsize=14, ha='center', va='center')
ax_h.text(48, 3.13e3, '40 K', fontsize=14, ha='center', va='center')
arrow(ax_h, (7.3e4, 11.6e3), (75, 3.85e3))

fig.savefig('out.png', dpi=100)
